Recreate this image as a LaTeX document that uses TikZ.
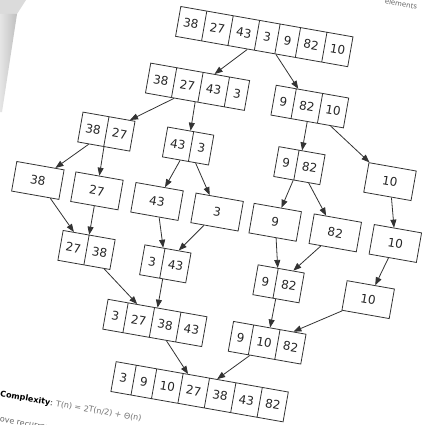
\documentclass[tikz,border=0pt]{standalone}
\usepackage{fontspec}
\setmainfont{DejaVu Sans}
\usetikzlibrary{shapes.multipart,arrows.meta}
\newcommand\celw[1]{\makebox[26pt]{#1}}
\newcommand\celn[1]{\makebox[20pt]{#1}}
\tikzset{
  rec/.style={draw=black!80, line width=0.8pt, rectangle split, rectangle split horizontal,
    rectangle split parts=#1, inner xsep=0pt, inner ysep=10.6pt, text=black!85,
    font=\fontsize{12}{12}\selectfont},
  single/.style={draw=black!80, line width=0.8pt, minimum width=48pt, minimum height=30pt,
    inner sep=0pt, text=black!85, font=\fontsize{12}{12}\selectfont},
  edge/.style={draw=black!80, line width=0.8pt, -{Triangle[length=8pt,width=6pt]}},
  note/.style={font=\fontsize{8}{9}\selectfont, inner sep=0pt}
}
\begin{document}
\begin{tikzpicture}[x=1pt,y=-1pt]
\useasboundingbox (0,0) rectangle (422,425);
\fill[white] (0,0) rectangle (422,425);
% page curl shadow
\fill[black!14] (0,0) -- (26,0) -- (17,14) -- (0,14) -- cycle;
\shade[left color=black!10, right color=black!25] (0,14) -- (17,14) -- (2,112) -- (0,112) -- cycle;
\begin{scope}
\clip (0,0) rectangle (422,425);
\begin{scope}[rotate around={-10:(211,212)}, transform shape]
% level 1
\node[rec=7] (t) at (233,30) {\celw{38}\nodepart{two}\celw{27}\nodepart{three}\celw{43}\nodepart{four}\celn{3}\nodepart{five}\celn{9}\nodepart{six}\celw{82}\nodepart{seven}\celw{10}};
% level 2
\node[rec=4] (a) at (176,91) {\celw{38}\nodepart{two}\celw{27}\nodepart{three}\celw{43}\nodepart{four}\celn{3}};
\node[rec=3] (b) at (290,91) {\celn{9}\nodepart{two}\celw{82}\nodepart{three}\celw{10}};
% level 3
\node[rec=2] (c) at (94,151) {\celw{38}\nodepart{two}\celw{27}};
\node[rec=2] (d) at (177,151) {\celw{43}\nodepart{two}\celn{3}};
\node[rec=2] (e) at (290,151) {\celn{9}\nodepart{two}\celw{82}};
\node[single] (f) at (382,151) {10};
% level 4
\node[single] (g) at (35,211) {38};
\node[single] (h) at (95,211) {27};
\node[single] (i) at (156,211) {43};
\node[single] (j) at (217,211) {3};
\node[single] (k) at (276,211) {9};
\node[single] (l) at (337,211) {82};
\node[single] (m) at (398,211) {10};
% level 5
\node[rec=2] (n) at (95,271) {\celw{27}\nodepart{two}\celw{38}};
\node[rec=2] (o) at (175,271) {\celn{3}\nodepart{two}\celw{43}};
\node[rec=2] (p) at (290,271) {\celn{9}\nodepart{two}\celw{82}};
\node[single] (q) at (381,271) {10};
% level 6
\node[rec=4] (r) at (175,331) {\celn{3}\nodepart{two}\celw{27}\nodepart{three}\celw{38}\nodepart{four}\celw{43}};
\node[rec=3] (s) at (289,331) {\celn{9}\nodepart{two}\celw{10}\nodepart{three}\celw{82}};
% level 7
\node[rec=7] (z) at (231,391) {\celn{3}\nodepart{two}\celn{9}\nodepart{three}\celw{10}\nodepart{four}\celw{27}\nodepart{five}\celw{38}\nodepart{six}\celw{43}\nodepart{seven}\celw{82}};
% edges
\draw[edge] (t) -- (a);
\draw[edge] (t) -- (b);
\draw[edge] (a) -- (c);
\draw[edge] (a) -- (d);
\draw[edge] (b) -- (e);
\draw[edge] (b) -- (f);
\draw[edge] (c) -- (g);
\draw[edge] (c) -- (h);
\draw[edge] (d) -- (i);
\draw[edge] (d) -- (j);
\draw[edge] (e) -- (k);
\draw[edge] (e) -- (l);
\draw[edge] (f) -- (m);
\draw[edge] (g) -- (n);
\draw[edge] (h) -- (n);
\draw[edge] (i) -- (o);
\draw[edge] (j) -- (o);
\draw[edge] (k) -- (p);
\draw[edge] (l) -- (p);
\draw[edge] (m) -- (q);
\draw[edge] (n) -- (r);
\draw[edge] (o) -- (r);
\draw[edge] (p) -- (s);
\draw[edge] (q) -- (s);
\draw[edge] (r) -- (z);
\draw[edge] (s) -- (z);
% surrounding text
\node[note, anchor=west] (cx) at (35,428) {\textbf{Complexity}: {\color{black!55}T(n) = 2T(n/2) + Θ(n)}};
\node[note, anchor=west, text=black!60] (rc) at (39,453) {ove recurrence};
\node[font=\fontsize{7}{8}\selectfont, inner sep=0pt, text=black!60] (el) at (362,-26) {elements};
\end{scope}
\end{scope}
\end{tikzpicture}
\end{document}
